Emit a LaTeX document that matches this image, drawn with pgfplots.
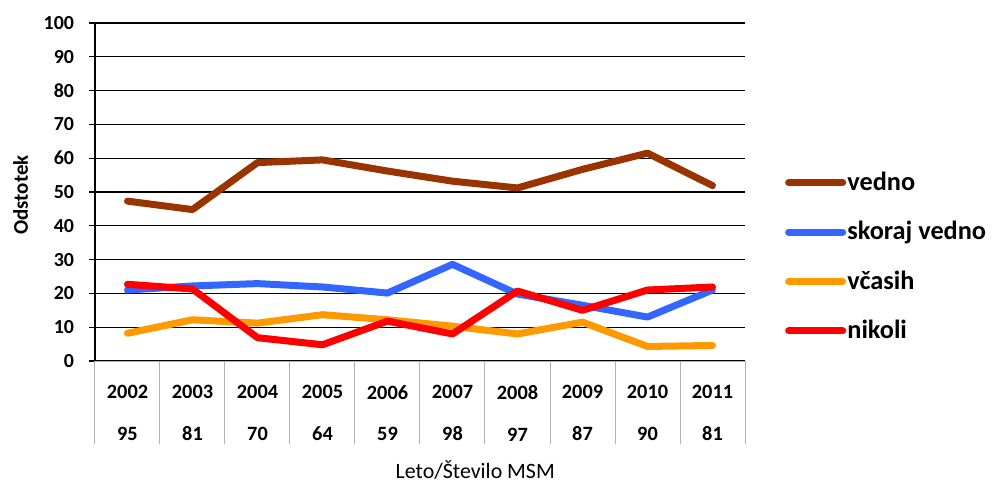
\documentclass[border=0pt]{standalone}
\usepackage{fontspec}
\setmainfont{Carlito}
\usepackage{pgfplots}
\pgfplotsset{compat=1.18}
\definecolor{cbrown}{RGB}{153,51,0}
\definecolor{cblue}{RGB}{51,102,255}
\definecolor{corange}{RGB}{255,153,0}
\definecolor{cred}{RGB}{255,0,0}
\begin{document}
\begin{tikzpicture}
\begin{axis}[
  scale only axis, width=325bp, height=169bp,
  xmin=-0.5, xmax=9.5, ymin=0, ymax=100,
  clip=false,
  /pgf/number format/assume math mode=true,
  axis x line*=bottom, axis y line*=left,
  axis line style={-},
  x axis line style={draw=gray!60, line width=0.5bp},
  y axis line style={draw=black, line width=0.6bp},
  ytick={0,10,...,100},
  ymajorgrids, grid style={black, line width=0.6bp},
  tick align=outside, major tick length=3bp,
  ytick style={black, line width=0.6bp},
  xtick={0,...,9},
  xticklabels={2002\\95,2003\\81,2004\\70,2005\\64,2006\\59,2007\\98,2008\\97,2009\\87,2010\\90,2011\\81},
  xtick style={draw=none},
  xticklabel style={font=\bfseries\fontsize{10.2}{20.75}\selectfont, align=center, yshift=-5.8bp},
  yticklabel style={font=\bfseries\fontsize{10}{12}\selectfont, xshift=-4bp},
  ylabel={Odstotek},
  ylabel style={at={(axis description cs:-0.1146,0.491)}, anchor=center, font=\bfseries\fontsize{10.5}{12}\selectfont},
  xlabel={Leto/Število MSM},
  xlabel style={at={(axis description cs:0.585,-0.3225)}, anchor=center, font=\fontsize{11}{13}\selectfont},
  legend style={at={(axis description cs:1.052,0.576)}, anchor=north west, draw=none, fill=none,
    font=\bfseries\fontsize{13.2}{16}\selectfont, row sep=12.8bp, nodes={inner sep=0.6bp}},
  legend cell align=left,
  legend image code/.code={\draw[#1, line cap=round] (0bp,0bp) -- (27bp,0bp);},
  every axis plot/.append style={line width=3.5bp, line cap=round, line join=round},
]
\addplot[cbrown] coordinates {(0,47.3) (1,44.8) (2,58.7) (3,59.5) (4,56.2) (5,53.2) (6,51.2) (7,56.7) (8,61.5) (9,51.9)};
\addlegendentry{vedno}
\addplot[cblue] coordinates {(0,21.0) (1,22.2) (2,22.9) (3,21.9) (4,20.1) (5,28.6) (6,19.8) (7,16.5) (8,13.0) (9,21.0)};
\addlegendentry{skoraj vedno}
\addplot[corange] coordinates {(0,8.2) (1,12.2) (2,11.2) (3,13.7) (4,12.2) (5,10.3) (6,8.0) (7,11.5) (8,4.3) (9,4.6)};
\addlegendentry{včasih}
\addplot[cred] coordinates {(0,22.7) (1,21.3) (2,6.9) (3,4.8) (4,11.8) (5,8.0) (6,20.7) (7,15.0) (8,21.0) (9,21.9)};
\addlegendentry{nikoli}
\pgfplotsinvokeforeach{-0.5,0.5,...,9.5}{\draw[gray!60, line width=0.5bp] (axis cs:#1,0) -- ++(0pt,-41.5bp);}
\coordinate (bbsw) at (rel axis cs:-0.14615,-0.37870);
\coordinate (bbne) at (rel axis cs:1.38154,1.06805);
\end{axis}
\pgfresetboundingbox
\path (bbsw) rectangle (bbne);
\end{tikzpicture}
\end{document}
